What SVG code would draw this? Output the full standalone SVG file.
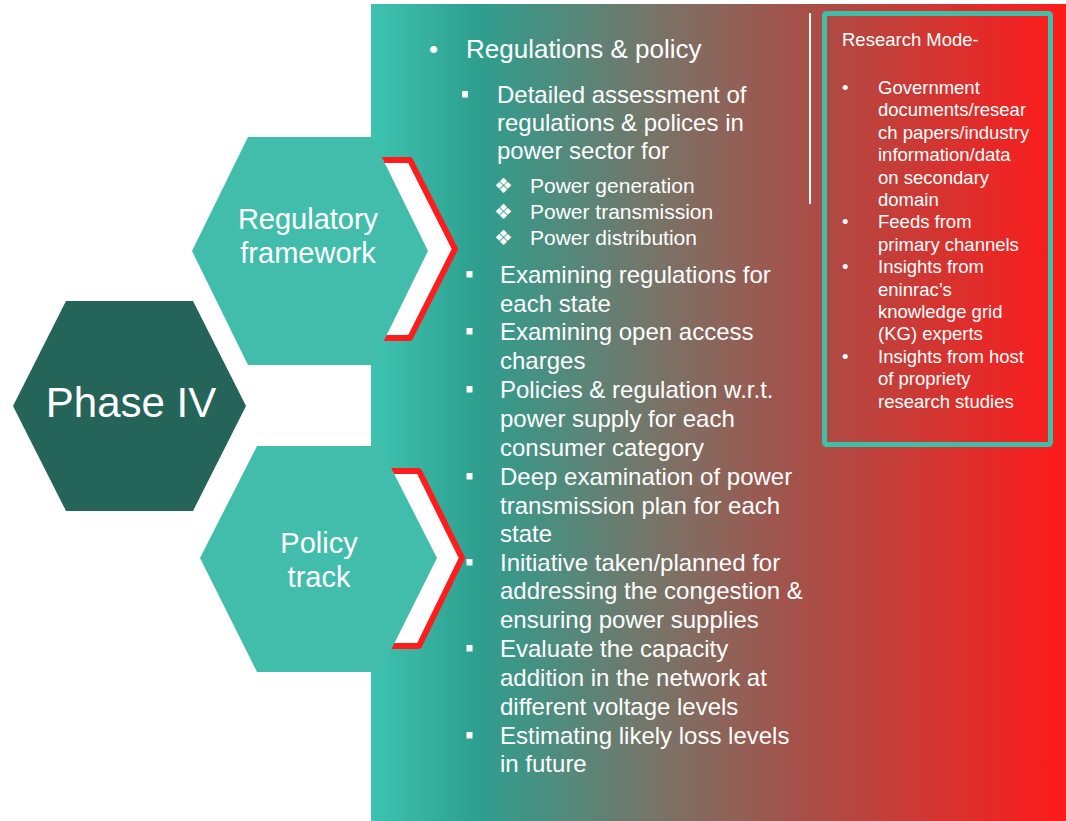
<svg xmlns="http://www.w3.org/2000/svg" width="1066" height="821" viewBox="0 0 1066 821">
<style>
.t{font-family:"Liberation Sans",Arial,sans-serif;fill:#ffffff}
.hexL{fill:#43bdab}
.hexD{fill:#256458}
.chev{fill:#ffffff;stroke:#ff1c1c;stroke-width:6;stroke-linejoin:round}
.sq{fill:#ffffff}
.m{font-size:24px}
.s{font-size:21px}
.b{font-size:18.5px}
.d{font-family:"DejaVu Sans",sans-serif;font-size:21px;fill:#ffffff}
</style>
<defs>
<linearGradient id="bg" x1="0" y1="0" x2="1" y2="0">
<stop offset="0" stop-color="#3ec3b0"/>
<stop offset="0.155" stop-color="#2e9f8f"/>
<stop offset="0.42" stop-color="#7a7266"/>
<stop offset="0.62" stop-color="#a65048"/>
<stop offset="1" stop-color="#ff1a1a"/>
</linearGradient>
</defs>
<rect x="0" y="0" width="1066" height="821" fill="#ffffff"/>
<rect id="panel" x="371" y="4" width="695" height="817" fill="url(#bg)"/>

<g id="connectors">
<polygon class="chev" points="374,160 410,160 455,249 410,338 374,338 419,249"/>
<polygon class="chev" points="378,471 419,471 462,558 419,646 378,646 426,558"/>
</g>

<g id="phase">
<polygon class="hexD" points="13,406 66,301 193,301 246,406 193,511 66,511"/>
<text class="t" x="131" y="417" font-size="42" text-anchor="middle">Phase IV</text>
</g>

<g id="regulatory">
<polygon class="hexL" points="192,251 248,137 372,137 428,251 372,365 248,365"/>
<text class="t" x="308" y="229" font-size="29" text-anchor="middle">Regulatory</text>
<text class="t" x="308" y="263" font-size="29" text-anchor="middle">framework</text>
</g>

<g id="policy">
<polygon class="hexL" points="200,558 257,446 380,446 437,558 380,672 257,672"/>
<text class="t" x="319" y="553" font-size="29" text-anchor="middle">Policy</text>
<text class="t" x="319" y="587" font-size="29" text-anchor="middle">track</text>
</g>

<g id="main-list">
<text class="t" x="429" y="58" font-size="26">•</text>
<text class="t" x="466" y="58" font-size="26">Regulations &amp; policy</text>

<rect class="sq" x="462" y="91" width="6" height="6.5"/>
<text class="t m" x="497" y="103">Detailed assessment of</text>
<text class="t m" x="497" y="131">regulations &amp; polices in</text>
<text class="t m" x="497" y="159">power sector for</text>

<text class="d" x="494" y="193">❖</text>
<text class="t s" x="530" y="193">Power generation</text>
<text class="d" x="494" y="219">❖</text>
<text class="t s" x="530" y="219">Power transmission</text>
<text class="d" x="494" y="245">❖</text>
<text class="t s" x="530" y="245">Power distribution</text>

<rect class="sq" x="466.5" y="271" width="6" height="6.5"/>
<text class="t m" x="500" y="283">Examining regulations for</text>
<text class="t m" x="500" y="312">each state</text>
<rect class="sq" x="466.5" y="328" width="6" height="6.5"/>
<text class="t m" x="500" y="340">Examining open access</text>
<text class="t m" x="500" y="369">charges</text>
<rect class="sq" x="466.5" y="386" width="6" height="6.5"/>
<text class="t m" x="500" y="398">Policies &amp; regulation w.r.t.</text>
<text class="t m" x="500" y="427">power supply for each</text>
<text class="t m" x="500" y="456">consumer category</text>
<rect class="sq" x="466.5" y="473" width="6" height="6.5"/>
<text class="t m" x="500" y="485">Deep examination of power</text>
<text class="t m" x="500" y="514">transmission plan for each</text>
<text class="t m" x="500" y="542">state</text>
<rect class="sq" x="466.5" y="559" width="6" height="6.5"/>
<text class="t m" x="500" y="571">Initiative taken/planned for</text>
<text class="t m" x="500" y="599">addressing the congestion &amp;</text>
<text class="t m" x="500" y="628">ensuring power supplies</text>
<rect class="sq" x="466.5" y="645" width="6" height="6.5"/>
<text class="t m" x="500" y="657">Evaluate the capacity</text>
<text class="t m" x="500" y="686">addition in the network at</text>
<text class="t m" x="500" y="715">different voltage levels</text>
<rect class="sq" x="466.5" y="732" width="6" height="6.5"/>
<text class="t m" x="500" y="744">Estimating likely loss levels</text>
<text class="t m" x="500" y="772">in future</text>
</g>

<line x1="810" y1="13" x2="810" y2="204" stroke="#ffffff" stroke-width="2"/>

<g id="research-mode">
<rect x="824.5" y="13.5" width="226" height="431" rx="2" fill="none" stroke="#3fbfaa" stroke-width="5"/>
<text class="t b" x="842" y="46">Research Mode-</text>
<text class="t b" x="842" y="94">•</text>
<text class="t b" x="878" y="94">Government</text>
<text class="t b" x="878" y="116.4">documents/resear</text>
<text class="t b" x="878" y="138.8">ch papers/industry</text>
<text class="t b" x="878" y="161.2">information/data</text>
<text class="t b" x="878" y="183.6">on secondary</text>
<text class="t b" x="878" y="206">domain</text>
<text class="t b" x="842" y="228.4">•</text>
<text class="t b" x="878" y="228.4">Feeds from</text>
<text class="t b" x="878" y="250.8">primary channels</text>
<text class="t b" x="842" y="273.2">•</text>
<text class="t b" x="878" y="273.2">Insights from</text>
<text class="t b" x="878" y="295.6">eninrac’s</text>
<text class="t b" x="878" y="318">knowledge grid</text>
<text class="t b" x="878" y="340.4">(KG) experts</text>
<text class="t b" x="842" y="362.8">•</text>
<text class="t b" x="878" y="362.8">Insights from host</text>
<text class="t b" x="878" y="385.2">of propriety</text>
<text class="t b" x="878" y="407.6">research studies</text>
</g>
</svg>
